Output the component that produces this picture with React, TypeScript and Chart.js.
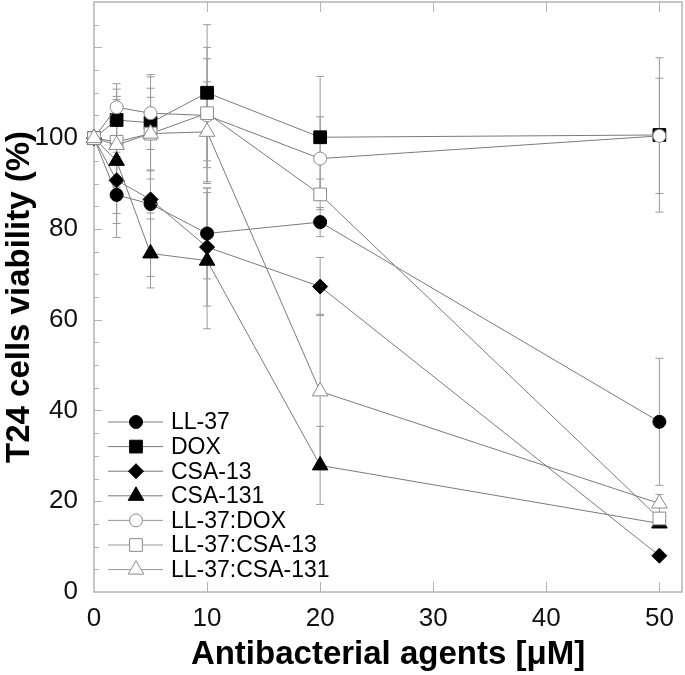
import React, { useEffect, useRef } from "react";
import { Chart, registerables } from "chart.js";
import { drawPoint } from "chart.js/helpers";

Chart.register(...registerables);

const doses = [0, 2, 5, 10, 20, 50];
const seriesNames = ["LL-37", "DOX", "CSA-13", "CSA-131", "LL-37:DOX", "LL-37:CSA-13", "LL-37:CSA-131"];
const ll37 = [100, 87.5, 85.5, 79, 81.5, 37.5];
const ll37Err = [0, 9.4, 2, 10, 3.2, 14];
const dox = [100, 104, 103.4, 110, 100.2, 100.7];
const doxErr = [0, 8, 10.6, 15, 13.4, 17];
const csa13 = [100, 90.7, 86.5, 76, 67.3, 8];
const csa13Err = [0, 9.5, 17, 13, 6.4, 0];
const csa131 = [100, 95, 74.6, 73, 27.9, 15.1];
const csa131Err = [0, 11.6, 7.6, 15, 8.6, 0];
const llDox = [100, 106.8, 105.5, 105, 95.5, 100.5];
const llDoxErr = [0, 4, 8, 15, 9.2, 12.7];
const llCsa13 = [100, 99.2, 101, 105.5, 87.6, 16.2];
const llCsa13Err = [0, 10, 10, 12, 3.4, 0];
const llCsa131 = [100, 98.5, 101, 101.4, 44.2, 19.5];
const llCsa131Err = [0, 10, 8, 11, 17, 2];
const xTicks = [0, 10, 20, 30, 40, 50];
const yTicks = [0, 20, 40, 60, 80, 100];

const seriesValues = [ll37, dox, csa13, csa131, llDox, llCsa13, llCsa131];
const seriesErrors = [ll37Err, doxErr, csa13Err, csa131Err, llDoxErr, llCsa13Err, llCsa131Err];
const styles = ["circle", "rect", "rectRot", "triangle", "circle", "rect", "triangle"];
const radii = [6.5, 9, 7.5, 9, 6.5, 9, 9];
const filled = [true, true, true, true, false, false, false];

const FONT = "'Liberation Sans', Arial, sans-serif";
const LINE = "#7a7a7a";
const ERR = "#9a9a9a";
const FRAME = "#b4b4b4";

const errorBars = {
  id: "errorBars",
  beforeDatasetsDraw(chart: any) {
    const { ctx, scales } = chart;
    const xs = scales.x;
    const ys = scales.y;
    ctx.save();
    ctx.strokeStyle = ERR;
    ctx.lineWidth = 1;
    seriesValues.forEach((vals, i) => {
      vals.forEach((v, j) => {
        const e = seriesErrors[i][j];
        if (!e) return;
        const x = xs.getPixelForValue(doses[j]);
        const yt = ys.getPixelForValue(v + e);
        const yb = ys.getPixelForValue(v - e);
        ctx.beginPath();
        ctx.moveTo(x, yt);
        ctx.lineTo(x, yb);
        ctx.moveTo(x - 4, yt);
        ctx.lineTo(x + 4, yt);
        ctx.moveTo(x - 4, yb);
        ctx.lineTo(x + 4, yb);
        ctx.stroke();
      });
    });
    ctx.restore();
  },
};

const frame = {
  id: "frame",
  beforeDatasetsDraw(chart: any) {
    const { ctx, chartArea: a, scales } = chart;
    ctx.save();
    ctx.strokeStyle = FRAME;
    ctx.lineWidth = 1.5;
    ctx.strokeRect(a.left, a.top, a.right - a.left, a.bottom - a.top);
    ctx.lineWidth = 1;
    ctx.beginPath();
    xTicks.forEach((t) => {
      if (t === 0) return;
      const x = Math.round(scales.x.getPixelForValue(t)) + 0.5;
      ctx.moveTo(x, a.bottom);
      ctx.lineTo(x, a.bottom - 10);
      ctx.moveTo(x, a.top);
      ctx.lineTo(x, a.top + 10);
    });
    for (let v = 5; v < 130; v += 5) {
      const y = Math.round(scales.y.getPixelForValue(v)) + 0.5;
      const len = v % 20 === 0 ? 8 : 5;
      ctx.moveTo(a.left, y);
      ctx.lineTo(a.left + len, y);
    }
    ctx.stroke();
    ctx.restore();
  },
};

const legendPlugin = {
  id: "innerLegend",
  afterDatasetsDraw(chart: any) {
    const { ctx, chartArea: a } = chart;
    ctx.save();
    ctx.font = `23px ${FONT}`;
    ctx.textBaseline = "middle";
    ctx.textAlign = "left";
    seriesNames.forEach((name, i) => {
      const y = a.bottom - 170 + i * 24.6;
      const x0 = a.left + 14;
      const xm = a.left + 42;
      ctx.strokeStyle = filled[i] ? LINE : "#9a9a9a";
      ctx.lineWidth = 1;
      ctx.beginPath();
      ctx.moveTo(x0, y);
      ctx.lineTo(a.left + 69, y);
      ctx.stroke();
      ctx.fillStyle = filled[i] ? "#000" : "#fff";
      ctx.strokeStyle = filled[i] ? "#000" : "#8a8a8a";
      drawPoint(ctx, { pointStyle: styles[i], radius: radii[i], rotation: 0, borderWidth: 1 } as any, xm, y);
      ctx.fillStyle = "#000";
      ctx.fillText(name, a.left + 77, y + 1);
    });
    ctx.restore();
  },
};

const zeroPad = (s: any) => {
  s.paddingTop = 0;
  s.paddingBottom = 0;
  s.paddingLeft = 0;
  s.paddingRight = 0;
};

export default function App() {
  const ref = useRef<HTMLCanvasElement>(null);
  useEffect(() => {
    if (!ref.current) return;
    const datasets = seriesNames.map((name, i) => ({
      label: name,
      data: doses.map((d, j) => ({ x: d, y: seriesValues[i][j] })),
      borderColor: LINE,
      borderWidth: 1,
      pointStyle: styles[i],
      pointRadius: radii[i],
      pointBackgroundColor: filled[i] ? "#000" : "#fff",
      pointBorderColor: filled[i] ? "#000" : "#8a8a8a",
      pointBorderWidth: 1,
      fill: false,
      tension: 0,
      clip: false,
      order: 10 - i,
    }));
    const chart = new Chart(ref.current, {
      type: "line",
      data: { datasets },
      plugins: [frame, errorBars, legendPlugin],
      options: {
        animation: false,
        responsive: true,
        maintainAspectRatio: false,
        layout: { autoPadding: false, padding: { top: 2, right: 3, left: 0, bottom: 0 } },
        plugins: { legend: { display: false }, tooltip: { enabled: false } },
        scales: {
          x: {
            type: "linear",
            min: 0,
            max: 52,
            afterBuildTicks: (s: any) => {
              s.ticks = xTicks.map((v) => ({ value: v }));
            },
            afterFit: (s: any) => {
              s.height = 83;
              zeroPad(s);
            },
            grid: { display: false, drawTicks: false },
            border: { display: false },
            ticks: { padding: 11, color: "#111", font: { family: FONT, size: 26 } },
            title: {
              display: true,
              text: "Antibacterial agents [μM]",
              color: "#000",
              font: { family: FONT, size: 33, weight: "bold" },
              padding: { top: 0, bottom: 0 },
            },
          },
          y: {
            type: "linear",
            min: 0,
            max: 130,
            afterBuildTicks: (s: any) => {
              s.ticks = yTicks.map((v) => ({ value: v }));
            },
            afterFit: (s: any) => {
              s.width = 94;
              zeroPad(s);
            },
            grid: { display: false, drawTicks: false },
            border: { display: false },
            ticks: { padding: 16, color: "#111", font: { family: FONT, size: 26 } },
            title: {
              display: true,
              text: "T24 cells viability (%)",
              color: "#000",
              font: { family: FONT, size: 33, weight: "bold" },
              padding: { top: 0, bottom: 0 },
            },
          },
        },
      } as any,
    });
    return () => chart.destroy();
  }, []);
  return (
    <div style={{ position: "fixed", left: 0, top: 0, width: 685, height: 675, background: "#fff" }}>
      <canvas ref={ref} />
    </div>
  );
}
